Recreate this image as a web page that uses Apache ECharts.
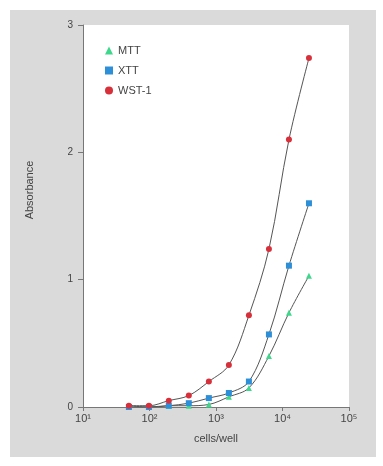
<!DOCTYPE html>
<html>
<head>
<meta charset="utf-8">
<script src="https://cdn.jsdelivr.net/npm/echarts@6/dist/echarts.min.js"></script>
<style>
    html, body { margin: 0; padding: 0; background: #fff; }
    #panel { position: absolute; left: 10px; top: 10px; width: 366px; height: 447px; background: #dadada; }
    #main { position: absolute; left: 0; top: 0; width: 383px; height: 466px; }
</style>
</head>
<body>
<div id="panel"></div>
<div id="main"></div>
<script>
// cells per well (doubling dilution)
var cells = [49, 98, 195, 390, 781, 1562, 3125, 6250, 12500, 25000];
var mtt = [0.01, 0.0, 0.01, 0.01, 0.02, 0.08, 0.15, 0.40, 0.74, 1.03];
var xtt = [0.0, 0.0, 0.01, 0.03, 0.07, 0.11, 0.20, 0.57, 1.11, 1.60];
var wst = [0.01, 0.01, 0.05, 0.09, 0.20, 0.33, 0.72, 1.24, 2.10, 2.74];
var xTicks = {10: '10¹', 100: '10²', 1000: '10³', 10000: '10⁴', 100000: '10⁵'};

function pairs(ys) {
    var out = [];
    for (var i = 0; i < cells.length; i++) {
        out.push([cells[i], ys[i]]);
    }
    return out;
}

var myChart = echarts.init(document.getElementById('main'));

function mk(name, ys, color, symbol) {
    return {
        name: name,
        type: 'line',
        data: pairs(ys),
        smooth: 0.35,
        symbol: symbol,
        symbolSize: 6,
        itemStyle: { color: color },
        lineStyle: { color: '#555', width: 1 },
        z: 3
    };
}

var option = {
    backgroundColor: 'transparent',
    textStyle: { fontFamily: 'Liberation Sans, Arial, sans-serif' },
    grid: {
        left: 83, right: 34, top: 25, bottom: 59,
        show: true, backgroundColor: '#fff', borderWidth: 0
    },
    legend: {
        orient: 'vertical',
        left: 100, top: 40,
        itemWidth: 8, itemHeight: 8, itemGap: 9,
        textStyle: { color: '#444', fontSize: 11 },
        data: [
            { name: 'MTT', icon: 'triangle' },
            { name: 'XTT', icon: 'rect' },
            { name: 'WST-1', icon: 'circle' }
        ]
    },
    xAxis: {
        type: 'log',
        logBase: 10,
        min: 10, max: 100000,
        name: 'cells/well',
        nameLocation: 'middle',
        nameGap: 26,
        nameTextStyle: { color: '#444', fontSize: 11 },
        axisLine: { lineStyle: { color: '#777' } },
        axisTick: { length: 4, lineStyle: { color: '#777' } },
        minorTick: { show: false },
        splitLine: { show: false },
        axisLabel: {
            color: '#444', fontSize: 11, margin: 6,
            formatter: function (v) { return xTicks[Math.round(v)] || ''; }
        }
    },
    yAxis: {
        type: 'value',
        min: 0, max: 3, interval: 1,
        axisLine: { show: true, lineStyle: { color: '#777' } },
        axisTick: { show: true, length: 5, lineStyle: { color: '#777' } },
        splitLine: { show: false },
        axisLabel: { color: '#444', fontSize: 10, margin: 10 }
    },
    graphic: [{
        type: 'text',
        x: 30, y: 190,
        rotation: Math.PI / 2,
        style: {
            text: 'Absorbance',
            fill: '#444',
            font: '11px Liberation Sans, Arial, sans-serif',
            align: 'center',
            verticalAlign: 'middle'
        }
    }],
    series: [
        mk('MTT', mtt, '#3ed88c', 'triangle'),
        mk('XTT', xtt, '#2d8fd8', 'rect'),
        mk('WST-1', wst, '#d8303a', 'circle')
    ]
};
myChart.setOption(option);
</script>
</body>
</html>
